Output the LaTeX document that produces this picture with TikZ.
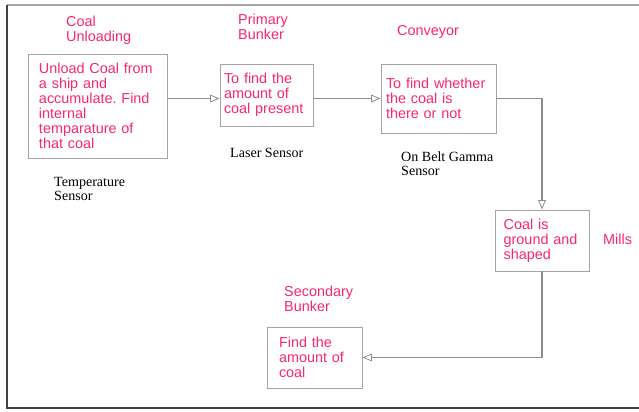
\documentclass[tikz,border=0pt]{standalone}
\usepackage{fontspec}
\setmainfont{Liberation Serif}
\newfontfamily\stagefont{Liberation Sans}
\usetikzlibrary{arrows.meta}
\frenchspacing
\definecolor{stagepink}{RGB}{250,38,112}
\definecolor{boxgray}{RGB}{165,165,165}
\definecolor{linegray}{RGB}{140,140,140}
\tikzset{
  stagebox/.style={draw=boxgray, line width=0.8pt, rectangle, align=left, text=stagepink, inner ysep=0pt, font=\stagefont\fontsize{12.3}{12.8}\selectfont},
  stagename/.style={text=stagepink, align=left, anchor=west, inner sep=0pt, font=\stagefont\fontsize{12.3}{12.8}\selectfont},
  sensorname/.style={align=left, anchor=west, inner sep=0pt, font=\fontsize{12}{12}\selectfont},
  flow/.style={draw=linegray, line width=0.9pt, -{Triangle[open, length=8pt, width=6.5pt, line width=0.7pt]}}
}
\begin{document}
\begin{tikzpicture}[x=0.03cm, y=-0.03cm]
            \useasboundingbox (0,0) rectangle (639,411);
            \draw[boxgray, line width=1.2pt] (7,5) -- (639,5);
            \draw[black!75, line width=1.7pt] (7,4.5) -- (7,408) -- (639,408);

            \node[stagebox, text width=3.51cm, inner xsep=0.33cm, minimum height=3.12cm] (unload) at (97.5,106) {Unload Coal from\\a ship and\\accumulate. Find\\internal\\temparature of\\that coal};
            \node[stagebox, text width=2.55cm, inner xsep=0.12cm, minimum height=1.86cm] (primary) at (266.5,95) {To find the\\amount of\\coal present};
            \node[stagebox, text width=3.15cm, inner xsep=0.15cm, minimum height=2.07cm] (conveyor) at (438.5,98.5) {To find whether\\the coal is\\there or not};
            \node[stagebox, text width=2.3cm, inner xsep=0.26cm, minimum height=1.83cm] (mills) at (542,240.5) {Coal is\\ground and\\shaped};
            \node[stagebox, text width=2.13cm, inner xsep=0.36cm, minimum height=1.83cm] (secondary) at (314.5,357.5) {Find the\\amount of\\coal};

            \node[stagename] (Lunload) at (66,30.5) {Coal\\Unloading};
            \node[stagename] (Lprimary) at (238,27) {Primary\\Bunker};
            \node[stagename] (Lconveyor) at (397,32) {Conveyor};
            \node[stagename] (Lmills) at (603,239) {Mills};
            \node[stagename] (Lsecondary) at (284,299) {Secondary\\Bunker};

            \node[sensorname] (Stemp) at (54,188.5) {Temperature\\Sensor};
            \node[sensorname] (Slaser) at (230,153) {Laser Sensor};
            \node[sensorname] (Sgamma) at (401,164) {On Belt Gamma\\Sensor};

            \draw[flow] (unload.east |- conveyor.west) to (primary.west |- conveyor.west); \draw[flow] (primary.east |- conveyor.west) to (conveyor.west);
            \draw[flow] (conveyor.east) -| (mills.north); \draw[flow] (mills.south) |- (secondary.east);
        \end{tikzpicture}
\end{document}
